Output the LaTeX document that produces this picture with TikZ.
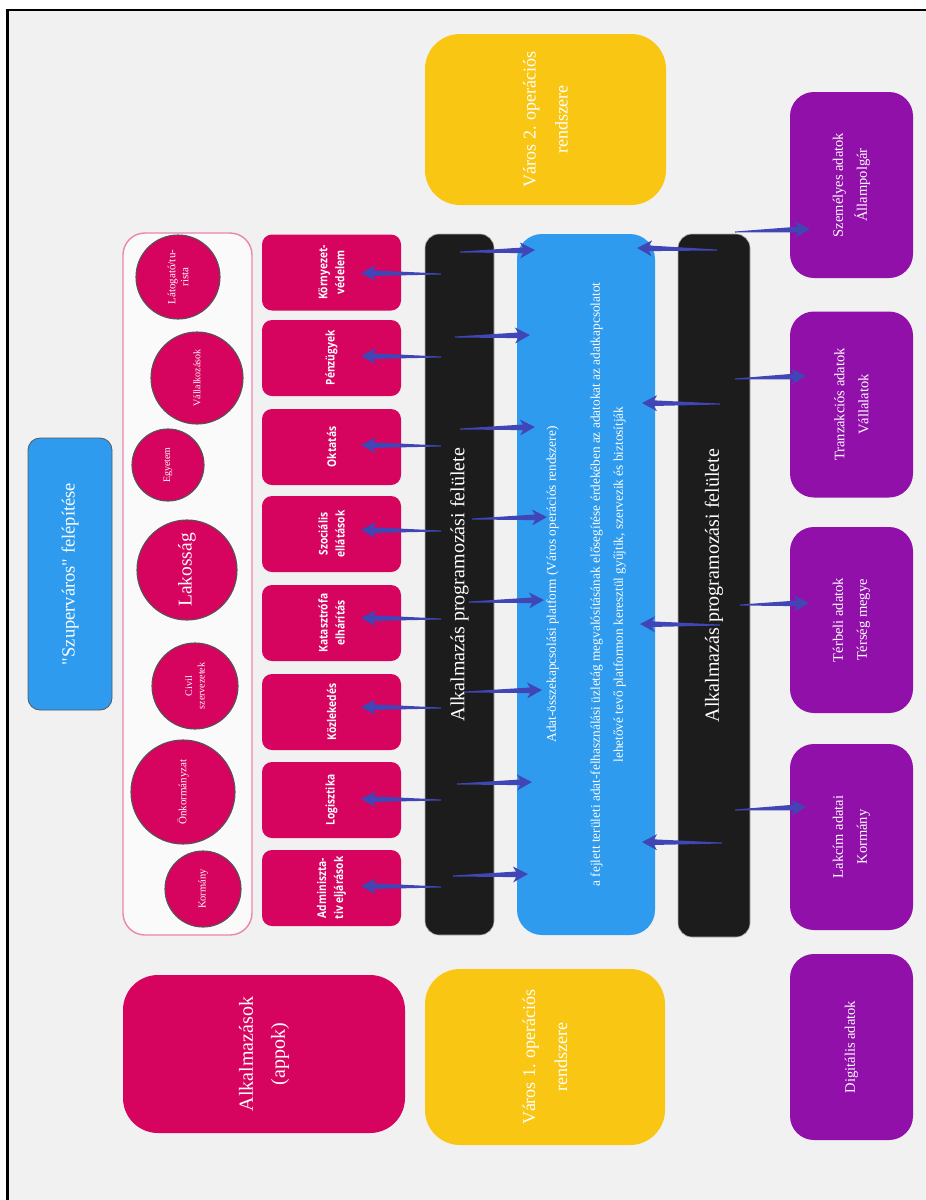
\documentclass[tikz,border=0pt]{standalone}
\usepackage{fontspec}
\setmainfont{Liberation Serif}
\newfontfamily\qfont[Ligatures=TeXOff]{Liberation Serif}
\newfontfamily\appfont[FakeStretch=0.85]{Open Sans}
\usetikzlibrary{calc}
\definecolor{bgc}{HTML}{F1F1F1}
\definecolor{crim}{HTML}{D6035F}
\definecolor{apb}{HTML}{2E9BEF}
\definecolor{blk}{HTML}{1C1C1C}
\definecolor{ylw}{HTML}{F9C614}
\definecolor{prp}{HTML}{9210AA}
\definecolor{arr}{HTML}{4046B5}
\definecolor{pinkline}{HTML}{E985B0}
\definecolor{contfill}{HTML}{FAFAFA}
\definecolor{circline}{HTML}{555555}
\newcommand\myfs[2]{\fontsize{#1}{#2}\selectfont}
\tikzset{
  taper/.style={to path={
    let \p1=(\tikztostart), \p2=(\tikztotarget), \n1={atan2(\y2-\y1,\x2-\x1)} in
    ($(\p1)+(\n1+90:0.5pt)$) -- ($(\p2)+(\n1+180:12pt)+(\n1+90:2.8pt)$)
    -- ($(\p2)+(\n1+180:15pt)+(\n1+90:8pt)$) -- (\p2)
    -- ($(\p2)+(\n1+180:15pt)+(\n1-90:8pt)$) -- ($(\p2)+(\n1+180:12pt)+(\n1-90:2.8pt)$)
    -- ($(\p1)+(\n1-90:0.5pt)$) -- cycle}},
  conn/.style={fill=arr},
  apbox/.style={rotate=90, fill=crim, rounded corners=10, minimum width=76, minimum height=139,
    text=white, align=center, font=\appfont\bfseries\myfs{12}{17}},
  circ/.style={circle, fill=crim, draw=circline, line width=1.1, text=white, align=center, rotate=90},
  bar/.style={rotate=90, fill=blk, draw=gray!60, line width=0.6, rounded corners=14,
    minimum width=701, text=white, font=\myfs{20}{24}},
  purp/.style={rotate=90, fill=prp, rounded corners=24, minimum width=186, minimum height=123,
    text=white, align=center, font=\myfs{14.5}{24}},
  yel/.style={rotate=90, fill=ylw, rounded corners=35, text=white, align=center, font=\myfs{18}{32}},
}
\begin{document}
\begin{tikzpicture}[x=1pt,y=-1pt, every node/.style={inner sep=0pt, outer sep=0pt}]
\useasboundingbox (0,0) rectangle (926,1200);
\fill[white] (0,0) rectangle (926,1200);
\fill[bgc] (7,10) rectangle (926,1200);
\draw[line width=2.2] (7.5,1200) -- (7.5,10) -- (926,10);

% title
\node[rotate=90, fill=apb, draw=gray!70!black, line width=0.8, rounded corners=12,
  minimum width=272, minimum height=84, text=white, font=\qfont\myfs{18.5}{22}] (title) at (70,574)
  {"Szuperváros" felépítése};

% stakeholder container
\node[rotate=90, fill=contfill, draw=pinkline, line width=1.4, rounded corners=22,
  minimum width=702, minimum height=129] (cont) at (187.5,584) {};
\node[circ, minimum size=84, font=\myfs{11}{13}] (c1) at (178,277) {Látogató/tu-\\rista};
\node[circ, minimum size=92, font=\myfs{10}{12}] (c2) at (197,378) {Vállalkozások};
\node[circ, minimum size=72, font=\myfs{10}{12}] (c3) at (168,465) {Egyetem};
\node[circ, minimum size=100, font=\myfs{19.5}{22}] (c4) at (187,570) {Lakosság};
\node[circ, minimum size=86, font=\myfs{10}{12.5}] (c5) at (195,686) {Civil\\szervezetek};
\node[circ, minimum size=104, font=\myfs{11}{13}] (c6) at (183,792) {Önkormányzat};
\node[circ, minimum size=76, font=\myfs{10.5}{12}] (c7) at (203,889) {Kormány};

% application boxes
\node[apbox] (a1) at (331.5,272.5) {Környezet-\\védelem};
\node[apbox] (a2) at (331.5,358) {Pénzügyek};
\node[apbox] (a3) at (331.5,447) {Oktatás};
\node[apbox] (a4) at (331.5,534) {Szociális\\ellátások};
\node[apbox] (a5) at (331.5,623) {Katasztrófa\\elhárítás};
\node[apbox] (a6) at (331.5,712) {Közlekedés};
\node[apbox] (a7) at (331.5,800) {Logisztika};
\node[apbox] (a8) at (331.5,888) {Adminiszta-\\tiv eljárások};

% API bars and platform
\node[bar, minimum height=69] (api1) at (459.5,584.5) {Alkalmazás programozási felülete};
\node[rotate=90, fill=apb, rounded corners=25, minimum width=701, minimum height=138,
  text=white, align=center, font=\myfs{13.3}{23}] (plat) at (586,584.5)
  {Adat-összekapcsolási platform (Város operációs rendszere)\\[21pt]
   a fejlett területi adat-felhasználási üzletág megvalósításának elősegítése érdekében az adatokat az adatkapcsolatot\\
   lehetővé tevő platformon keresztül gyűjtik, szervezik és biztosítják};
\node[bar, minimum height=72, minimum width=703] (api2) at (714,585.5) {Alkalmazás programozási felülete};

% operating systems and apps
\node[yel, minimum width=171, minimum height=241] (os2) at (545.5,119.5) {Város 2. operációs\\rendszere};
\node[yel, minimum width=176, minimum height=240] (os1) at (545,1057) {Város 1. operációs\\rendszere};
\node[rotate=90, fill=crim, rounded corners=35, minimum width=158, minimum height=282,
  text=white, align=center, font=\myfs{20}{32}] (apps) at (264,1054) {Alkalmazások\\(appok)};

% data boxes
\node[purp] (p1) at (851.5,185) {Személyes adatok\\Állampolgár};
\node[purp] (p2) at (851.5,404.5) {Tranzakciós adatok\\Vállalatok};
\node[purp] (p3) at (851.5,620) {Térbeli adatok\\Térség megye};
\node[purp] (p4) at (851.5,837) {Lakcím adatai\\Kormány};
\node[purp] (p5) at (851.5,1047) {Digitális adatok};

% connector end points
\foreach \i/\y in {1/273,2/356,3/445,4/530,5/618,6/707,7/799,8/886}{
  \coordinate (lt\i) at (441,\y+1);
  \coordinate (lh\i) at (361,\y);
}
\foreach \i/\xa/\ya/\xb/\yb in {1/460/252/535/250, 2/455/337/530/335, 3/460/429/535/427,
  4/472/519/547/517, 5/469/602/544/600, 6/465/692/542/690, 7/457/784/532/782, 8/453/876/528/874}{
  \coordinate (rt\i) at (\xa,\ya);
  \coordinate (rh\i) at (\xb,\yb);
}
\foreach \i/\xa/\ya/\xb/\yb in {1/717/250/637/248, 2/720/404/642/403, 3/720/625/640/624, 4/722/843/642/842}{
  \coordinate (bt\i) at (\xa,\ya);
  \coordinate (bh\i) at (\xb,\yb);
}
\foreach \i/\xa/\ya/\xb/\yb in {1/735/232/810/229, 2/735/379/806/376, 3/740/605/809/603, 4/735/810/806/807}{
  \coordinate (dt\i) at (\xa,\ya);
  \coordinate (dh\i) at (\xb,\yb);
}

% connectors
\foreach \i in {1,...,8}{
  \fill[conn] (lt\i) to[taper] (lh\i);
  \fill[conn] (rt\i) to[taper] (rh\i);
}
\foreach \i in {1,...,4}{
  \fill[conn] (bt\i) to[taper] (bh\i);
  \fill[conn] (dt\i) to[taper] (dh\i);
}
\end{tikzpicture}
\end{document}
